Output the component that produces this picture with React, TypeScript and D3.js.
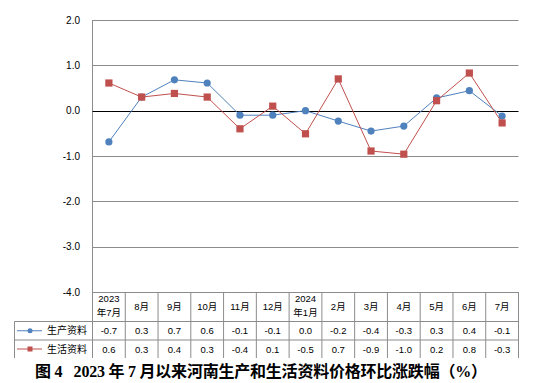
import React from "react";
import * as d3 from "d3";

const categories: string[][] = [
  ["2023", "年7月"], ["8月"], ["9月"], ["10月"], ["11月"], ["12月"],
  ["2024", "年1月"], ["2月"], ["3月"], ["4月"], ["5月"], ["6月"], ["7月"],
];
const seriesNames = ["生产资料", "生活资料"];
const producerValues = [-0.69, 0.3, 0.68, 0.61, -0.1, -0.1, 0.0, -0.23, -0.45, -0.34, 0.28, 0.44, -0.12];
const consumerValues = [0.61, 0.3, 0.38, 0.3, -0.4, 0.1, -0.51, 0.7, -0.89, -0.96, 0.22, 0.83, -0.27];
const producerLabels = ["-0.7", "0.3", "0.7", "0.6", "-0.1", "-0.1", "0.0", "-0.2", "-0.4", "-0.3", "0.3", "0.4", "-0.1"];
const consumerLabels = ["0.6", "0.3", "0.4", "0.3", "-0.4", "0.1", "-0.5", "0.7", "-0.9", "-1.0", "0.2", "0.8", "-0.3"];
const yTicks = [2, 1, 0, -1, -2, -3, -4];
const title = "图 4\u00a0\u00a0\u00a02023 年 7 月以来河南生产和生活资料价格环比涨跌幅（%）";

const W = 553, H = 383;
const left = 92.5, right = 518.5, top = 20, bottom = 292;
const tableLeft = 14.5;
const rowY = [292, 321.5, 340, 358];
const colors = ["#4F81BD", "#C0504D"];
const grid = "#8c8c8c";
const sans = "'Liberation Sans', 'Noto Sans CJK SC', sans-serif";

export default function App() {
  const y = d3.scaleLinear().domain([-4, 2]).range([bottom, top]);
  const x = d3.scaleBand<number>().domain(d3.range(categories.length)).range([left, right]);
  const cx = (i: number) => (x(i) as number) + x.bandwidth() / 2;
  const line = d3.line<number>().x((_, i) => cx(i)).y((d) => y(d));
  const series = [producerValues, consumerValues];
  const labels = [producerLabels, consumerLabels];

  return (
    <svg width={W} height={H} style={{ position: "absolute", left: 0, top: 0, background: "#fff" }}>
      <rect width={W} height={H} fill="#fff" />
      {yTicks.map((t) => (
        <g key={t}>
          {t !== 0 && <line x1={left} x2={right} y1={Math.round(y(t)) + 0.5} y2={Math.round(y(t)) + 0.5} stroke={grid} strokeWidth={1} />}
          <text x={80} y={y(t) + 3.5} textAnchor="end" fontFamily={sans} fontSize={10} fill="#000">{t.toFixed(1)}</text>
        </g>
      ))}
      <line x1={left} x2={left} y1={top} y2={rowY[3]} stroke={grid} />
      <line x1={left} x2={right} y1={Math.round(y(0)) + 0.5} y2={Math.round(y(0)) + 0.5} stroke="#000" strokeWidth={1.2} />
      {series.map((s, k) => (
        <g key={k}>
          <path d={line(s) as string} fill="none" stroke={colors[k]} strokeWidth={1} />
          {s.map((v, i) =>
            k === 0 ? (
              <circle key={i} cx={cx(i)} cy={y(v)} r={3.6} fill={colors[k]} />
            ) : (
              <rect key={i} x={cx(i) - 3.6} y={y(v) - 3.6} width={7.2} height={7.2} fill={colors[k]} />
            )
          )}
        </g>
      ))}
      {/* table */}
      {categories.map((_, i) => (
        <line key={i} x1={(x(i) as number) + x.bandwidth()} x2={(x(i) as number) + x.bandwidth()} y1={rowY[0]} y2={rowY[3]} stroke={grid} />
      ))}
      <line x1={tableLeft} x2={tableLeft} y1={rowY[1]} y2={rowY[3]} stroke={grid} />
      <line x1={tableLeft} x2={right} y1={rowY[1]} y2={rowY[1]} stroke={grid} />
      <line x1={tableLeft} x2={right} y1={rowY[2]} y2={rowY[2]} stroke={grid} />
      {categories.map((c, i) =>
        c.length === 2 ? (
          <text key={i} textAnchor="middle" fontFamily={sans} fontSize={9.5} fill="#000">
            <tspan x={cx(i)} y={302}>{c[0]}</tspan>
            <tspan x={cx(i)} y={316}>{c[1]}</tspan>
          </text>
        ) : (
          <text key={i} x={cx(i)} y={310} textAnchor="middle" fontFamily={sans} fontSize={9.5} fill="#000">{c[0]}</text>
        )
      )}
      {labels.map((row, k) => (
        <g key={k}>
          {row.map((l, i) => (
            <text key={i} x={cx(i)} y={(rowY[k + 1] + rowY[k + 2]) / 2 + 3.5} textAnchor="middle" fontFamily={sans} fontSize={9.5} fill="#000">{l}</text>
          ))}
          <line x1={17} x2={42} y1={(rowY[k + 1] + rowY[k + 2]) / 2} y2={(rowY[k + 1] + rowY[k + 2]) / 2} stroke={colors[k]} />
          {k === 0 ? (
            <circle cx={30} cy={(rowY[k + 1] + rowY[k + 2]) / 2} r={2.5} fill={colors[k]} />
          ) : (
            <rect x={27.5} y={(rowY[k + 1] + rowY[k + 2]) / 2 - 2.5} width={5} height={5} fill={colors[k]} />
          )}
          <text x={47} y={(rowY[k + 1] + rowY[k + 2]) / 2 + 3.5} fontFamily={sans} fontSize={10} fill="#000">{seriesNames[k]}</text>
        </g>
      ))}
      <rect x={0} y={359} width={W} height={24} fill="#fff" />
      <text x={35} y={377} fontFamily="'Liberation Serif', 'Noto Sans CJK SC', serif" fontWeight="bold" fontSize={16} fill="#000" textLength={452} lengthAdjust="spacing">{title}</text>
    </svg>
  );
}
